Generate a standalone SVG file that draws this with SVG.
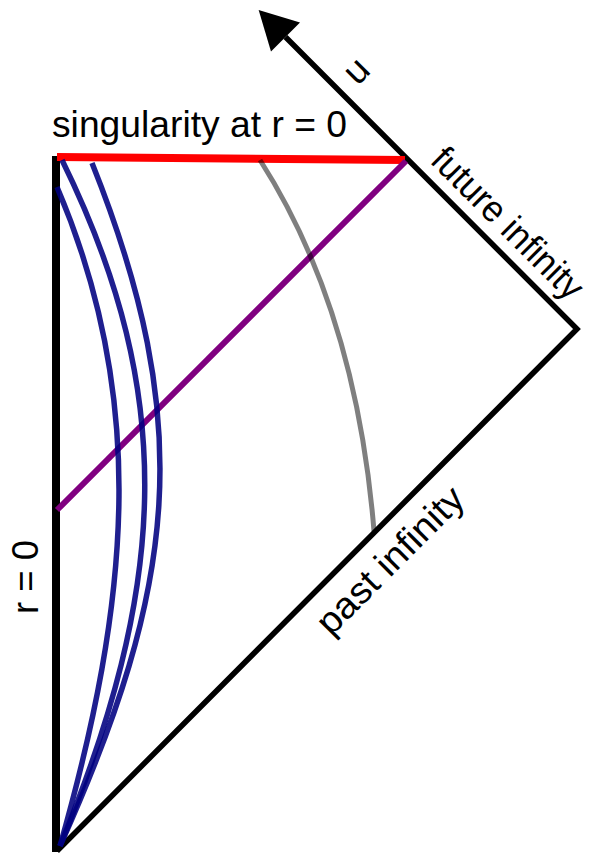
<svg xmlns="http://www.w3.org/2000/svg" width="596" height="856" viewBox="0 0 596 856">
<style>
.lbl{font-family:"Liberation Sans",Arial,Helvetica,sans-serif;font-size:37px;fill:#000}
.edge{fill:none;stroke:#000;stroke-width:5.5;stroke-linejoin:miter}
.geo{fill:none;stroke:#000080;stroke-opacity:0.88;stroke-width:5.5}
</style>
<defs>
<marker id="arrow" markerUnits="userSpaceOnUse" markerWidth="40" markerHeight="42" refX="0" refY="20.5" orient="auto" overflow="visible">
<path d="M0,0 L38,20.5 L0,41 Z" fill="#000"/>
</marker>
</defs>
<rect width="596" height="856" fill="#fff"/>
<g id="boundary">
<path id="r0-line" d="M56,156 V852" fill="none" stroke="#000" stroke-width="8"/>
<path id="infinity-lines" class="edge" d="M57,851 L577,329 L285.5,37" marker-end="url(#arrow)"/>
</g>
<g id="singularity">
<path d="M57,157 L405,160" fill="none" stroke="#ff0000" stroke-width="8"/>
</g>
<g id="null-ray">
<path d="M57,510 L406,161" fill="none" stroke="#800080" stroke-width="6"/>
</g>
<g id="geodesics">
<path class="geo" d="M57,187 C148,400 130,600 60,846"/>
<path class="geo" d="M62,160 C180,400 165,590 60,846"/>
<path class="geo" d="M92,163 C196,423 177,586 60,846"/>
</g>
<g id="gray-curve">
<path d="M260,160 Q356,310 374,531" fill="none" stroke="#000" stroke-opacity="0.5" stroke-width="5"/>
</g>
<g id="labels">
<text class="lbl" x="52" y="137" font-size="36" textLength="295" lengthAdjust="spacingAndGlyphs">singularity at r = 0</text>
<text class="lbl" transform="translate(357.5,86.5) rotate(-45)" font-size="38">u</text>
<text class="lbl" transform="translate(429,162) rotate(45)" font-size="34" textLength="198" lengthAdjust="spacingAndGlyphs">future infinity</text>
<text class="lbl" transform="translate(331,637) rotate(-45)" textLength="192" lengthAdjust="spacingAndGlyphs">past infinity</text>
<text class="lbl" transform="translate(38,614) rotate(-90)" textLength="74" lengthAdjust="spacingAndGlyphs">r = 0</text>
</g>
</svg>
